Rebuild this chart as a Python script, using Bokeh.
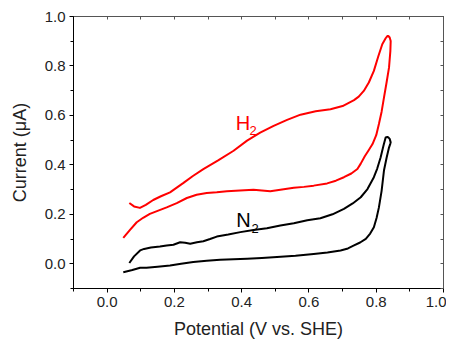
from bokeh.plotting import figure
from bokeh.models import LinearAxis, Range1d, FixedTicker, NumeralTickFormatter
from bokeh.core.properties import value
from bokeh.embed import file_html
from bokeh.resources import INLINE

# H2 cyclic voltammogram (lower branch left->right, then upper branch right->left)
h2_x = [0.048, 0.068, 0.088, 0.107, 0.127, 0.152, 0.177, 0.207, 0.237, 0.266, 0.296,
        0.326, 0.356, 0.395, 0.435, 0.485, 0.520, 0.555, 0.585, 0.614, 0.654, 0.680,
        0.704, 0.726, 0.744, 0.754, 0.766, 0.778, 0.789, 0.800, 0.808, 0.816, 0.823,
        0.831, 0.838, 0.842, 0.843, 0.840, 0.836, 0.833, 0.828, 0.818, 0.806, 0.793,
        0.778, 0.763, 0.748, 0.734, 0.700, 0.664, 0.620, 0.575, 0.535, 0.495, 0.455,
        0.416, 0.376, 0.330, 0.286, 0.255, 0.227, 0.187, 0.160, 0.137, 0.115, 0.0975,
        0.080, 0.066]
h2_y = [0.105, 0.137, 0.168, 0.186, 0.202, 0.215, 0.228, 0.245, 0.266, 0.279, 0.286,
        0.289, 0.293, 0.296, 0.299, 0.293, 0.300, 0.307, 0.311, 0.316, 0.325, 0.336,
        0.350, 0.365, 0.383, 0.405, 0.435, 0.460, 0.484, 0.520, 0.565, 0.615, 0.672,
        0.735, 0.793, 0.860, 0.901, 0.915, 0.921, 0.921, 0.912, 0.888, 0.838, 0.780,
        0.733, 0.699, 0.676, 0.662, 0.638, 0.625, 0.617, 0.603, 0.582, 0.558, 0.530,
        0.498, 0.457, 0.418, 0.383, 0.355, 0.327, 0.289, 0.273, 0.258, 0.238, 0.226,
        0.232, 0.246]

# N2 cyclic voltammogram
n2_x = [0.048, 0.075, 0.098, 0.117, 0.150, 0.187, 0.220, 0.256, 0.296, 0.336, 0.376,
        0.416, 0.460, 0.505, 0.560, 0.614, 0.655, 0.694, 0.716, 0.734, 0.752, 0.769,
        0.782, 0.793, 0.801, 0.808, 0.816, 0.823, 0.831, 0.838, 0.842, 0.843, 0.840,
        0.836, 0.833, 0.828, 0.822, 0.813, 0.803, 0.793, 0.774, 0.754, 0.730, 0.704,
        0.670, 0.634, 0.595, 0.555, 0.515, 0.475, 0.435, 0.396, 0.360, 0.326, 0.306,
        0.286, 0.267, 0.247, 0.232, 0.217, 0.197, 0.177, 0.157, 0.130, 0.110, 0.098,
        0.080, 0.066]
n2_y = [-0.034, -0.025, -0.016, -0.016, -0.012, -0.007, 0.000, 0.007, 0.012, 0.016, 0.018,
        0.020, 0.023, 0.027, 0.032, 0.040, 0.046, 0.054, 0.062, 0.074, 0.086, 0.101,
        0.122, 0.148, 0.185, 0.228, 0.295, 0.377, 0.430, 0.470, 0.486, 0.491, 0.505,
        0.511, 0.513, 0.511, 0.480, 0.430, 0.385, 0.350, 0.302, 0.269, 0.244, 0.222,
        0.200, 0.184, 0.176, 0.164, 0.155, 0.144, 0.137, 0.128, 0.118, 0.110, 0.100,
        0.091, 0.087, 0.081, 0.085, 0.087, 0.077, 0.074, 0.070, 0.066, 0.060, 0.054,
        0.030, 0.003]

x_ticks = [0.0, 0.2, 0.4, 0.6, 0.8, 1.0]
y_ticks = [0.0, 0.2, 0.4, 0.6, 0.8, 1.0]
x_minor = [-0.1, 0.1, 0.3, 0.5, 0.7, 0.9]
y_minor = [-0.1, 0.1, 0.3, 0.5, 0.7, 0.9]

FONT = "Liberation Sans"

p = figure(width=446, height=342, output_backend="svg", toolbar_location=None,
           x_range=Range1d(-0.1, 1.0), y_range=Range1d(-0.1, 1.0),
           min_border_left=73, min_border_right=3, min_border_top=16,
           min_border_bottom=54)
p.grid.visible = False
p.outline_line_color = "black"
p.outline_line_width = 1
p.background_fill_color = "white"
p.border_fill_color = "white"

p.line(h2_x, h2_y, line_color="#ff0000", line_width=2, line_join="round")
p.line(n2_x, n2_y, line_color="black", line_width=2, line_join="round")

p.text(x=[0.382], y=[0.570], text=["H"], text_color="#ff0000",
       text_font=value(FONT), text_font_size="20px", text_baseline="alphabetic")
p.text(x=[0.423], y=[0.538], text=["2"], text_color="#ff0000",
       text_font=value(FONT), text_font_size="13px", text_baseline="alphabetic")
p.text(x=[0.384], y=[0.179], text=["N"], text_color="black",
       text_font=value(FONT), text_font_size="20px", text_baseline="alphabetic")
p.text(x=[0.429], y=[0.142], text=["2"], text_color="black",
       text_font=value(FONT), text_font_size="13px", text_baseline="alphabetic")

for ax, ticks, minor in ((p.xaxis[0], x_ticks, x_minor), (p.yaxis[0], y_ticks, y_minor)):
    ax.ticker = FixedTicker(ticks=ticks, minor_ticks=minor)
    ax.formatter = NumeralTickFormatter(format="0.0")
    ax.major_label_text_font = FONT
    ax.major_label_text_font_size = "15px"
    ax.major_label_text_color = "#222222"
    ax.axis_label_text_font = FONT
    ax.axis_label_text_font_size = "18px"
    ax.axis_label_text_font_style = "normal"
    ax.axis_label_text_color = "#222222"
    ax.major_tick_out = 4
    ax.major_tick_in = 0
    ax.minor_tick_out = 3
    ax.minor_tick_in = 0
    ax.axis_line_color = "black"
    ax.major_label_standoff = 4

p.xaxis[0].axis_label = "Potential (V vs. SHE)"
p.xaxis[0].axis_label_standoff = 9
p.yaxis[0].axis_label = "Current (\u03bcA)"
p.yaxis[0].axis_label_standoff = 12
p.yaxis[0].major_label_orientation = "horizontal"

for loc, ticks, minor in (("above", x_ticks, x_minor), ("right", y_ticks, y_minor)):
    ax = LinearAxis(ticker=FixedTicker(ticks=[], minor_ticks=sorted(ticks + minor)))
    ax.major_label_standoff = 0
    ax.major_tick_in = 0
    ax.major_tick_out = 0
    ax.minor_tick_in = 3
    ax.minor_tick_out = 0
    ax.axis_line_color = "#555555"
    ax.minor_tick_line_color = "#555555"
    p.add_layout(ax, loc)

open("out.html", "w").write(file_html(p, INLINE))
